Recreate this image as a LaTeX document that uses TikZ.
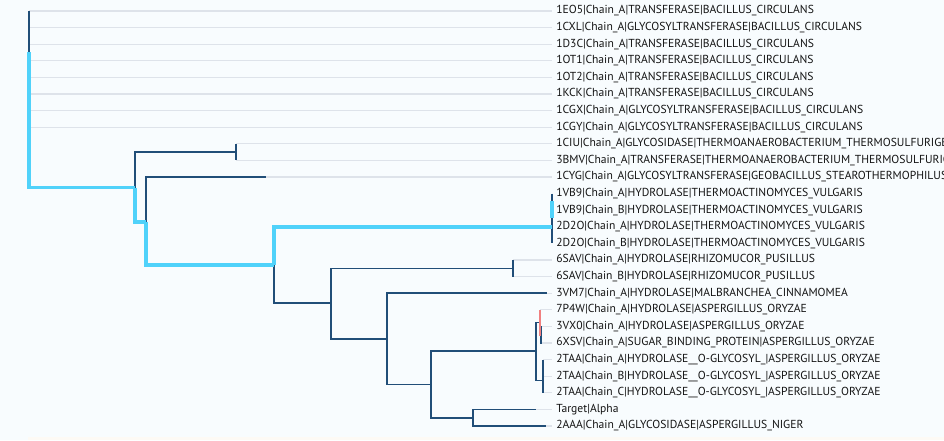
\documentclass[tikz,border=0pt]{standalone}
\usepackage{fontspec}
\setmainfont{PT Sans}
\usetikzlibrary{positioning}
\definecolor{bgtint}{RGB}{248,252,254}
\definecolor{footband}{RGB}{253,250,245}
\definecolor{branchblue}{RGB}{33,78,120}
\definecolor{hilite}{RGB}{80,210,250}
\definecolor{guidegray}{RGB}{222,227,234}
\definecolor{tipred}{RGB}{240,128,128}
\tikzset{
 branch/.style={draw=branchblue, line width=1.2pt},
 hibranch/.style={draw=hilite, line width=2.4pt},
 redbranch/.style={draw=tipred, line width=1.2pt},
 guide/.style={draw=guidegray, line width=0.8pt},
 leaf/.style={anchor=west, inner xsep=3pt, inner ysep=0pt, text=black!92,
   font=\fontsize{8.7}{10}\selectfont},
}

\begin{document}
\begin{tikzpicture}[x=0.75pt,y=-0.75pt]
 \useasboundingbox (0,0) rectangle (944,440);
 \fill[bgtint] (0,0) rectangle (944,440);
 \fill[footband] (28,437) rectangle (944,440);
 % leaves: name/row/tip x/label
 \foreach \name/\row/\tipx/\txt in {
  1EO5/0/29/{1EO5|Chain\_A|TRANSFERASE|BACILLUS\_CIRCULANS},
  1CXL/1/29/{1CXL|Chain\_A|GLYCOSYLTRANSFERASE|BACILLUS\_CIRCULANS},
  1D3C/2/29/{1D3C|Chain\_A|TRANSFERASE|BACILLUS\_CIRCULANS},
  1OT1/3/30/{1OT1|Chain\_A|TRANSFERASE|BACILLUS\_CIRCULANS},
  1OT2/4/30/{1OT2|Chain\_A|TRANSFERASE|BACILLUS\_CIRCULANS},
  1KCK/5/30/{1KCK|Chain\_A|TRANSFERASE|BACILLUS\_CIRCULANS},
  1CGX/6/30/{1CGX|Chain\_A|GLYCOSYLTRANSFERASE|BACILLUS\_CIRCULANS},
  1CGY/7/30/{1CGY|Chain\_A|GLYCOSYLTRANSFERASE|BACILLUS\_CIRCULANS},
  1CIU/8/236/{1CIU|Chain\_A|GLYCOSIDASE|THERMOANAEROBACTERIUM\_THERMOSULFURIGENES},
  3BMV/9/236/{3BMV|Chain\_A|TRANSFERASE|THERMOANAEROBACTERIUM\_THERMOSULFURIGENES},
  1CYG/10/266/{1CYG|Chain\_A|GLYCOSYLTRANSFERASE|GEOBACILLUS\_STEAROTHERMOPHILUS},
  1VB9A/11/552/{1VB9|Chain\_A|HYDROLASE|THERMOACTINOMYCES\_VULGARIS},
  1VB9B/12/552/{1VB9|Chain\_B|HYDROLASE|THERMOACTINOMYCES\_VULGARIS},
  2D2OA/13/552/{2D2O|Chain\_A|HYDROLASE|THERMOACTINOMYCES\_VULGARIS},
  2D2OB/14/552/{2D2O|Chain\_B|HYDROLASE|THERMOACTINOMYCES\_VULGARIS},
  6SAVA/15/513/{6SAV|Chain\_A|HYDROLASE|RHIZOMUCOR\_PUSILLUS},
  6SAVB/16/513/{6SAV|Chain\_B|HYDROLASE|RHIZOMUCOR\_PUSILLUS},
  3VM7/17/547/{3VM7|Chain\_A|HYDROLASE|MALBRANCHEA\_CINNAMOMEA},
  7P4W/18/540/{7P4W|Chain\_A|HYDROLASE|ASPERGILLUS\_ORYZAE},
  3VX0/19/541/{3VX0|Chain\_A|HYDROLASE|ASPERGILLUS\_ORYZAE},
  6XSV/20/542/{6XSV|Chain\_A|SUGAR\_BINDING\_PROTEIN|ASPERGILLUS\_ORYZAE},
  2TAAA/21/543/{2TAA|Chain\_A|HYDROLASE\_\_O-GLYCOSYL\_|ASPERGILLUS\_ORYZAE},
  2TAAB/22/543/{2TAA|Chain\_B|HYDROLASE\_\_O-GLYCOSYL\_|ASPERGILLUS\_ORYZAE},
  2TAAC/23/543/{2TAA|Chain\_C|HYDROLASE\_\_O-GLYCOSYL\_|ASPERGILLUS\_ORYZAE},
  Target/24/536/{Target|Alpha},
  2AAA/25/546/{2AAA|Chain\_A|GLYCOSIDASE|ASPERGILLUS\_NIGER}} {
  \node[leaf] (\name) at (552,{11+16.6*\row}) {\txt};
  \coordinate (tip\name) at (\tipx,{11+16.6*\row});
  \draw[guide] (tip\name) -- (\name.west);
 }
 % inner nodes
 \coordinate (root) at (29,52);
 \coordinate (spinefoot) at (29,147);
 \coordinate (nA) at (135,187.5);
 \coordinate (nB) at (236,152.1);
 \coordinate (nC) at (146,222);
 \coordinate (nD) at (274,265);
 \coordinate (nE) at (552,227);
 \coordinate (nEa) at (552,201);
 \coordinate (nEb) at (552,218);
 \coordinate (nF) at (331,303);
 \coordinate (nG) at (513,268.3);
 \coordinate (nH) at (387,339);
 \coordinate (nI) at (431,384.5);
 \coordinate (nJ) at (536,351);
 \coordinate (nK) at (473,417.7);
 \coordinate (nL) at (540,322.3);
 \coordinate (nN) at (541,334.7);
 \coordinate (nM) at (543,380.4);
 % plain branches
 \draw[branch] (tip1EO5) -- (spinefoot);
 \draw[branch] (tip1OT1) -- (tip1OT2);
 \draw[branch] (tip1KCK) -- (tip1CGY);
 \draw[branch] (nA) |- (nB);
 \draw[branch] (nB) |- (tip1CIU);
 \draw[branch] (nB) |- (tip3BMV);
 \draw[branch] (nC) |- (tip1CYG);
 \draw[branch] (tip1VB9A) -- (tip2D2OB);
 \draw[branch] (nD) |- (nF);
 \draw[branch] (nF) |- (nG);
 \draw[branch] (nG) |- (tip6SAVA);
 \draw[branch] (nG) |- (tip6SAVB);
 \draw[branch] (nF) |- (nH);
 \draw[branch] (nH) |- (tip3VM7);
 \draw[branch] (nH) |- (nI);
 \draw[branch] (nI) |- (nJ);
 \draw[branch] (nI) |- (nK);
 \draw[branch] (nK) |- (tipTarget);
 \draw[branch] (nK) |- (tip2AAA);
 \draw[branch] (nJ) |- (nL);
 \draw[branch] (nJ) |- (nM);
 \draw[branch] (nM) |- (tip2TAAA);
 \draw[branch] (nM) |- (tip2TAAC);
 \draw[branch] (nN) |- (tip3VX0);
 \draw[branch] (nN) |- (tip6XSV);
 \draw[redbranch] (nL) |- (tip7P4W);
 \draw[redbranch] (nL) |- (nN);
 % highlighted path
 \draw[hibranch] (root) |- (nA);
 \draw[hibranch] (nA) |- (nC);
 \draw[hibranch] (nC) |- (nD);
 \draw[hibranch] (nD) |- (nE);
 \draw[hibranch] (nEa) -- (nEb);
\end{tikzpicture}
\end{document}
